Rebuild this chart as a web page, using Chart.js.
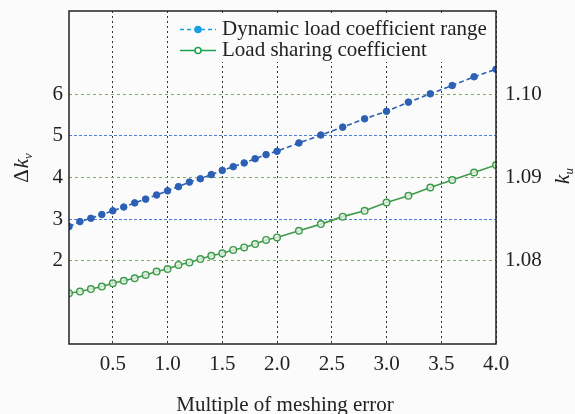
<!DOCTYPE html>
<html>
<head>
<meta charset="utf-8">
<script src="https://cdn.jsdelivr.net/npm/chart.js@4/dist/chart.umd.min.js"></script>
<style>
  body { margin: 0; background: #fbfbfb; }
  #wrap { width: 575px; height: 414px; }
</style>
</head>
<body>
<div id="wrap"><canvas id="chart" width="575" height="414"></canvas></div>
<script>
// meshing error multiple (x), step 0.1 up to 2.0 then 0.2
const multiples = [0.1, 0.2, 0.3, 0.4, 0.5, 0.6, 0.7, 0.8, 0.9, 1.0,
  1.1, 1.2, 1.3, 1.4, 1.5, 1.6, 1.7, 1.8, 1.9, 2.0,
  2.2, 2.4, 2.6, 2.8, 3.0, 3.2, 3.4, 3.6, 3.8, 4.0];

// Δk_v, left axis
const dynRange = [2.82, 2.94, 3.02, 3.11, 3.20, 3.29, 3.39, 3.48, 3.58, 3.68,
  3.78, 3.89, 3.97, 4.07, 4.17, 4.26, 4.35, 4.45, 4.55, 4.63,
  4.83, 5.02, 5.21, 5.41, 5.59, 5.81, 6.01, 6.21, 6.42, 6.60];

// k_u, right axis
const loadShare = [1.0761, 1.0763, 1.0766, 1.0769, 1.0773, 1.0776, 1.0779, 1.0783, 1.0787, 1.0790,
  1.0795, 1.0798, 1.0802, 1.0806, 1.0809, 1.0813, 1.0816, 1.0820, 1.0825, 1.0828,
  1.0836, 1.0844, 1.0853, 1.0860, 1.0870, 1.0878, 1.0888, 1.0897, 1.0906, 1.0915];

const xTicks = [0.5, 1.0, 1.5, 2.0, 2.5, 3.0, 3.5, 4.0];
const leftTicks = [2, 3, 4, 5, 6];
const rightTicks = [1.08, 1.09, 1.10];

const legendNames = ["Dynamic load coefficient range", "Load sharing coefficient"];

const serif = "'Liberation Serif', 'DejaVu Serif', serif";
const textColor = "#222";
const bg = "#fbfbfb";
const fontSize = 21;

const noPad = (s) => {
  s.paddingTop = 0;
  s.paddingBottom = 0;
  s.paddingLeft = 0;
  s.paddingRight = 0;
};

const framePlugin = {
  id: "frame",
  afterDraw(chart) {
    const ctx = chart.ctx;
    const a = chart.chartArea;
    ctx.save();

    // legend box
    ctx.fillStyle = bg;
    ctx.fillRect(173, 14, 321, 48);
    const rows = [
      { y: 29.5, color: "#1a9fe0", dash: [4, 3], filled: true },
      { y: 50.5, color: "#1aa54e", dash: [], filled: false },
    ];
    rows.forEach((r, i) => {
      ctx.strokeStyle = r.color;
      ctx.lineWidth = 1.5;
      ctx.setLineDash(r.dash);
      ctx.beginPath();
      ctx.moveTo(180, r.y);
      ctx.lineTo(216, r.y);
      ctx.stroke();
      ctx.setLineDash([]);
      ctx.beginPath();
      ctx.arc(198, r.y, 3, 0, Math.PI * 2);
      ctx.fillStyle = r.filled ? r.color : "#ffffff";
      ctx.fill();
      ctx.stroke();
      ctx.fillStyle = textColor;
      ctx.font = fontSize + "px " + serif;
      ctx.textAlign = "left";
      ctx.textBaseline = "middle";
      ctx.fillText(legendNames[i], 222, r.y);
    });

    // plot frame
    ctx.strokeStyle = "#222";
    ctx.lineWidth = 1.5;
    ctx.strokeRect(a.left, a.top, a.right - a.left, a.bottom - a.top);

    // axis titles
    ctx.fillStyle = textColor;
    ctx.textBaseline = "alphabetic";

    ctx.font = fontSize + "px " + serif;
    ctx.textAlign = "center";
    ctx.fillText("Multiple of meshing error", 285, 411);
    ctx.textAlign = "left";

    // left title: Δk_v
    ctx.save();
    ctx.translate(28, 168);
    ctx.rotate(-Math.PI / 2);
    ctx.font = "21px " + serif;
    const wD = ctx.measureText("Δ").width;
    ctx.font = "italic 21px " + serif;
    const wK = ctx.measureText("k").width;
    ctx.font = "italic 13px " + serif;
    const wV = ctx.measureText("v").width;
    let x0 = -(wD + wK + wV + 1) / 2;
    ctx.font = "21px " + serif;
    ctx.fillText("Δ", x0, 0);
    ctx.font = "italic 21px " + serif;
    ctx.fillText("k", x0 + wD + 1, 0);
    ctx.font = "italic 13px " + serif;
    ctx.fillText("v", x0 + wD + wK + 1, 4);
    ctx.restore();

    // right title: k_u
    ctx.save();
    ctx.translate(569, 176);
    ctx.rotate(-Math.PI / 2);
    ctx.font = "italic 21px " + serif;
    const wK2 = ctx.measureText("k").width;
    ctx.font = "italic 13px " + serif;
    const wU = ctx.measureText("u").width;
    x0 = -(wK2 + wU) / 2;
    ctx.font = "italic 21px " + serif;
    ctx.fillText("k", x0, 0);
    ctx.font = "italic 13px " + serif;
    ctx.fillText("u", x0 + wK2, 4);
    ctx.restore();

    ctx.restore();
  },
};

new Chart(document.getElementById("chart"), {
  type: "line",
  data: {
    datasets: [
      {
        label: legendNames[0],
        data: multiples.map((x, i) => ({ x: x, y: dynRange[i] })),
        yAxisID: "y",
        borderColor: "#2c60b4",
        borderWidth: 1.6,
        borderDash: [5, 3],
        pointRadius: 3.3,
        pointBackgroundColor: "#2c60b4",
        pointBorderColor: "#2c60b4",
        pointBorderWidth: 1,
        tension: 0,
      },
      {
        label: legendNames[1],
        data: multiples.map((x, i) => ({ x: x, y: loadShare[i] })),
        yAxisID: "y2",
        borderColor: "#3f9b4b",
        borderWidth: 1.6,
        pointRadius: 3.3,
        pointBackgroundColor: "rgba(230,244,230,0.8)",
        pointBorderColor: "#3f9b4b",
        pointBorderWidth: 1.4,
        tension: 0,
      },
    ],
  },
  options: {
    responsive: false,
    animation: false,
    layout: { padding: { top: 11, left: 0, right: 0, bottom: 0 } },
    plugins: {
      legend: { display: false },
      tooltip: { enabled: false },
    },
    scales: {
      x: {
        type: "linear",
        min: 0.1,
        max: 4.0,
        afterBuildTicks: (s) => { s.ticks = xTicks.map((v) => ({ value: v })); },
        afterFit: (s) => { s.height = 70; noPad(s); },
        ticks: {
          autoSkip: false,
          maxRotation: 0,
          padding: 8,
          color: textColor,
          font: { family: serif, size: fontSize },
          callback: (v) => Number(v).toFixed(1),
        },
        grid: { color: "#333", lineWidth: 1, drawTicks: false },
        border: { display: false, dash: [2, 3] },
      },
      y: {
        position: "left",
        min: 0,
        max: 8,
        afterBuildTicks: (s) => { s.ticks = leftTicks.map((v) => ({ value: v })); },
        afterFit: (s) => { s.width = 69; noPad(s); },
        ticks: {
          padding: 6,
          color: textColor,
          font: { family: serif, size: fontSize },
        },
        grid: {
          drawTicks: false,
          lineWidth: 1,
          color: (c) => (c.tick && c.tick.value % 2 === 0 ? "#78b060" : "#4a7fdc"),
        },
        border: {
          display: false,
          dash: (c) => (c.tick && c.tick.value % 2 === 0 ? [3, 3] : [3, 2]),
        },
      },
      y2: {
        position: "right",
        min: 1.07,
        max: 1.11,
        afterBuildTicks: (s) => { s.ticks = rightTicks.map((v) => ({ value: v })); },
        afterFit: (s) => { s.width = 79; noPad(s); },
        ticks: {
          padding: 9,
          color: textColor,
          font: { family: serif, size: fontSize },
          callback: (v) => Number(v).toFixed(2),
        },
        grid: { drawOnChartArea: false, drawTicks: false },
        border: { display: false },
      },
    },
  },
  plugins: [framePlugin],
});
</script>
</body>
</html>
